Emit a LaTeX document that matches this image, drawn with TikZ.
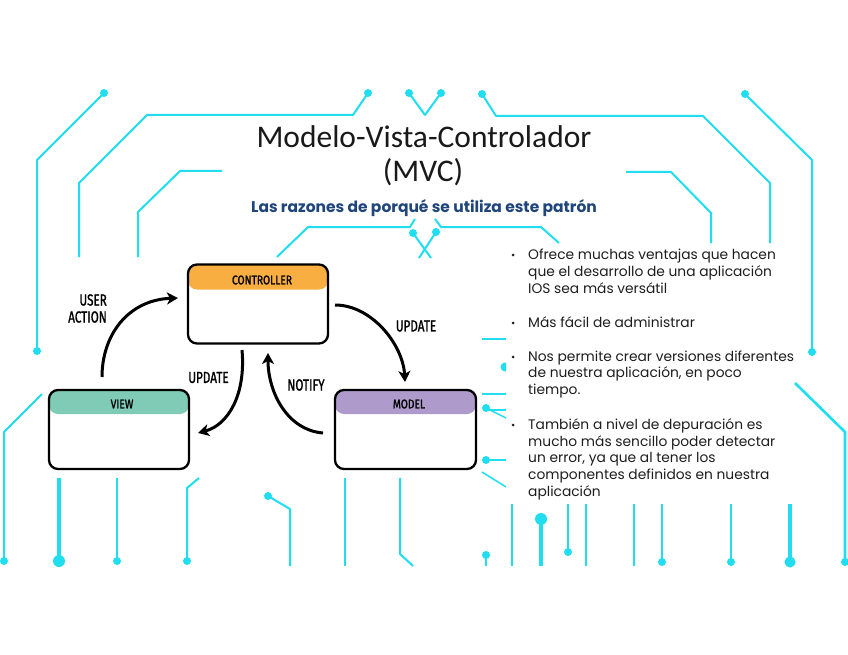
\documentclass[tikz,border=0pt]{standalone}
\usepackage{graphicx}
\usepackage{fontspec}
\setmainfont{Carlito}
\newfontfamily\gothic{Poppins}
\newfontfamily\hand[FakeBold=1.6]{Fira Sans}
\usetikzlibrary{arrows.meta}
\definecolor{circ}{RGB}{32,222,240}
\definecolor{ctrlc}{RGB}{249,174,66}
\definecolor{viewc}{RGB}{127,203,181}
\definecolor{modelc}{RGB}{174,155,203}
\definecolor{subc}{RGB}{31,69,122}
\definecolor{titlec}{RGB}{25,25,25}
\definecolor{bullc}{RGB}{30,30,30}
\begin{document}
\begin{tikzpicture}[x=1pt,y=-1pt,
  cl/.style={draw=circ,line width=2pt,line join=round},
  ct/.style={draw=circ,line width=4.5pt,line join=round},
  mvc/.style={draw=black,line width=2.3pt,rounded corners=9pt,minimum width=140pt,minimum height=79pt,inner sep=0pt},
  arr/.style={draw=black,line width=3pt,-{Stealth[length=11pt,width=12pt,inset=3pt]}},
  lab/.style={font=\hand\fontsize{16}{16}\selectfont,inner sep=0pt},
  hdrlab/.style={font=\hand\fontsize{12.5}{13}\selectfont,inner sep=0pt},
  bl/.style={font=\gothic\fontsize{13.8}{16}\selectfont,anchor=base west,inner sep=0pt,text=bullc}
]
\useasboundingbox (0,0) rectangle (848,655);
\fill[white] (0,0) rectangle (848,655);

% ---------- circuit lines ----------
\draw[cl] (104,93) -- (37,160) -- (37,351);
\fill[circ] (104,93) circle (4pt); \fill[circ] (37,351) circle (4pt);
\draw[cl] (368,93) -- (353,115) -- (147,115) -- (79,183) -- (79,257);
\fill[circ] (368,93) circle (4pt);
\draw[cl] (222,171) -- (180,171) -- (138,212) -- (138,257);
\draw[cl] (409,93) -- (425,115) -- (441,93);
\fill[circ] (409,93) circle (4pt); \fill[circ] (441,93) circle (4pt);
\draw[cl] (482,94) -- (496,116) -- (703,116) -- (770,183) -- (770,243);
\fill[circ] (482,94) circle (4pt);
\draw[cl] (745,94) -- (812,160) -- (812,352);
\fill[circ] (745,94) circle (4pt); \fill[circ] (812,352) circle (4pt);
\draw[cl] (626,172) -- (671,172) -- (711,213) -- (711,243);
\draw[cl] (277,257) -- (308,227) -- (410,227) -- (415,219);
\draw[cl] (413,233) -- (431,258);
\draw[cl] (436,232) -- (419,258);
\fill[circ] (413,233) circle (4pt); \fill[circ] (436,232) circle (4pt);
\draw[cl] (435,219) -- (441,227) -- (541,227) -- (559,243);
\draw[cl,line width=2.6pt] (795,383) -- (845,432) -- (845,562);
\fill[circ] (845,562) circle (4pt);
% bottom left
\draw[cl] (42,394) -- (4,432) -- (4,561);
\fill[circ] (4,561) circle (4pt);
\draw[ct] (59,478) -- (59,561);
\fill[circ] (59,561) circle (6pt);
\draw[cl] (117,478) -- (117,561);
\fill[circ] (117,561) circle (4pt);
\draw[cl] (199,478) -- (187,488) -- (187,561);
\fill[circ] (187,561) circle (4pt);
\draw[cl] (268,496) -- (290,509) -- (290,566);
\fill[circ] (268,496) circle (4pt);
\draw[cl] (345,478) -- (345,566);
\draw[cl] (400,478) -- (400,554) -- (413,566);
% right-middle fragments
\draw[cl] (482,339) -- (506,339);
\begin{scope}
  \clip (480,355) rectangle (506,380);
  \fill[circ] (505,367) circle (4.5pt);
\end{scope}
\draw[cl] (482,394) -- (506,394);
\draw[cl] (486,410) -- (506,410);
\draw[cl,line width=1.5pt] (486,408) -- (506,418);
\fill[circ] (486,408) circle (4pt);
\draw[cl] (486,460) -- (506,460);
\fill[circ] (486,460) circle (4pt);
\draw[cl,line width=1.5pt] (482,472) -- (506,487);
% bottom right
\draw[cl] (486,555) -- (486,566);
\fill[circ] (486,555) circle (4pt);
\draw[cl] (512,504) -- (512,566);
\draw[ct] (541,519) -- (541,566);
\fill[circ] (541,519) circle (6pt);
\draw[cl] (568,504) -- (568,552);
\fill[circ] (568,552) circle (4pt);
\draw[cl] (586,504) -- (586,566);
\draw[cl] (634,504) -- (634,566);
\draw[cl] (662,504) -- (662,562);
\fill[circ] (662,562) circle (4pt);
\draw[cl] (731,504) -- (731,562);
\fill[circ] (731,562) circle (4pt);
\draw[ct] (790,504) -- (790,562);
\fill[circ] (790,562) circle (5.5pt);

% ---------- title ----------
\node[font=\fontsize{31.5}{32}\selectfont,text=titlec,anchor=base,inner sep=0pt] (title1) at (424,148) {Modelo-Vista-Controlador};
\node[font=\fontsize{31.5}{32}\selectfont,text=titlec,anchor=base,inner sep=0pt] (title2) at (423,182) {(MVC)};
\node[font=\gothic\bfseries\fontsize{15.5}{16}\selectfont,text=subc,anchor=base,inner sep=0pt] (subtitle) at (424,212) {Las razones de porqué se utiliza este patrón};

% ---------- MVC diagram ----------
\node[mvc,path picture={\fill[ctrlc] (path picture bounding box.north west) rectangle ([yshift=-25pt]path picture bounding box.north east);}] (controller) at (258,304) {};
\node[mvc,path picture={\fill[viewc] (path picture bounding box.north west) rectangle ([yshift=-24pt]path picture bounding box.north east);}] (view) at (119,429.5) {};
\node[mvc,minimum width=141pt,path picture={\fill[modelc] (path picture bounding box.north west) rectangle ([yshift=-24pt]path picture bounding box.north east);}] (model) at (405.5,429.5) {};
\node[hdrlab] (ctrltxt) at (262,280) {\scalebox{0.82}[1]{CONTROLLER}};
\node[hdrlab] (viewtxt) at (122,404) {\scalebox{0.82}[1]{VIEW}};
\node[hdrlab] (modeltxt) at (409,404) {\scalebox{0.82}[1]{MODEL}};

\coordinate (ua1) at (102,377);
\coordinate (ua2) at (178,298);
\coordinate (um1) at (335,305);
\coordinate (um2) at (405,382);
\coordinate (uv1) at (242,350);
\coordinate (uv2) at (198,433);
\coordinate (nt1) at (323,433);
\coordinate (nt2) at (268,353);
\draw[arr] (ua1) .. controls (102,335) and (128,300) .. (ua2);
\draw[arr] (um1) .. controls (372,305) and (403,345) .. (um2);
\draw[arr] (uv1) .. controls (246,395) and (228,425) .. (uv2);
\draw[arr] (nt1) .. controls (287,430) and (268,392) .. (nt2);

\node[lab,anchor=east] (lab1) at (107,300) {\scalebox{0.73}[1]{USER}};
\node[lab,anchor=east] (lab2) at (107,317) {\scalebox{0.73}[1]{ACTION}};
\node[lab] (lab3) at (416,326) {\scalebox{0.73}[1]{UPDATE}};
\node[lab] (lab4) at (208.5,377.5) {\scalebox{0.73}[1]{UPDATE}};
\node[lab] (lab5) at (306,385) {\scalebox{0.73}[1]{NOTIFY}};

% ---------- bullets ----------
\foreach \yy in {255,323,357,425} {\fill[bullc] (513,\yy) circle (1.5pt);}
\node[bl] (b1a) at (528,259) {Ofrece muchas ventajas que hacen};
\node[bl] (b1b) at (528,276) {que el desarrollo de una aplicación};
\node[bl] (b1c) at (528,293) {IOS sea más versátil};
\node[bl] (b2a) at (528,327) {Más fácil de administrar};
\node[bl] (b3a) at (528,361) {Nos permite crear versiones diferentes};
\node[bl] (b3b) at (528,377) {de nuestra aplicación, en poco};
\node[bl] (b3c) at (528,394) {tiempo.};
\node[bl] (b4a) at (528,429) {También a nivel de depuración es};
\node[bl] (b4b) at (528,446) {mucho más sencillo poder detectar};
\node[bl] (b4c) at (528,462) {un error, ya que al tener los};
\node[bl] (b4d) at (528,479) {componentes definidos en nuestra};
\node[bl] (b4e) at (528,496) {aplicación};
\end{tikzpicture}
\end{document}
